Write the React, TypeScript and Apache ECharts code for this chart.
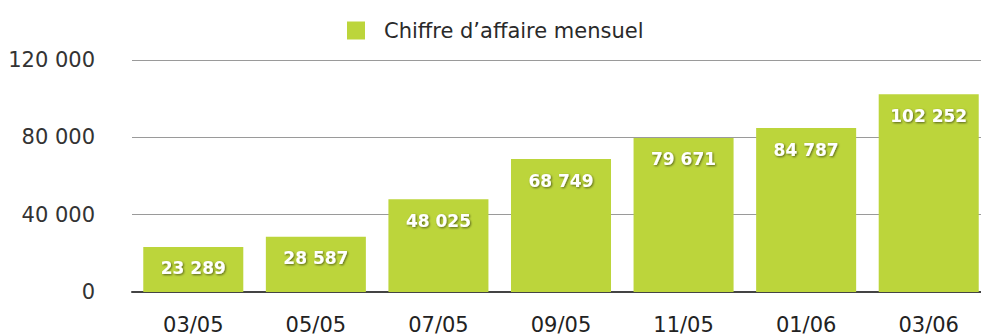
import React, { useEffect, useRef } from "react";
import * as echarts from "echarts";

const categories = ["03/05", "05/05", "07/05", "09/05", "11/05", "01/06", "03/06"];
const revenue = [23289, 28587, 48025, 68749, 79671, 84787, 102252];
const seriesName = "Chiffre d’affaire mensuel";
const yTicks = { min: 0, max: 120000, interval: 40000 };

const fmt = (v: number) => String(Math.round(v)).replace(/\B(?=(\d{3})+(?!\d))/g, " ");

export default function App() {
  const ref = useRef<HTMLDivElement>(null);
  useEffect(() => {
    if (!ref.current) return;
    const chart = echarts.init(ref.current, null, { renderer: "svg" });
    const font = "'DejaVu Sans', 'Liberation Sans', Arial, sans-serif";
    chart.setOption({
      animation: false,
      backgroundColor: "#ffffff",
      textStyle: { fontFamily: font },
      legend: {
        top: 20,
        left: 347,
        padding: 0,
        itemWidth: 18,
        itemHeight: 18,
        icon: "rect",
        textStyle: { fontSize: 21, color: "#2a2a2a", fontFamily: font, padding: [0, 0, 0, 14] },
        data: [seriesName],
      },
      // the plot runs slightly past the right edge of the visible frame
      grid: { left: 132, right: 0, top: 60, bottom: 43 },
      xAxis: {
        type: "category",
        data: categories,
        axisTick: { show: false },
        axisLine: { show: true, lineStyle: { color: "#444", width: 2 } },
        axisLabel: { fontSize: 21, color: "#222", margin: 22, fontFamily: font },
      },
      yAxis: {
        type: "value",
        min: yTicks.min,
        max: yTicks.max,
        interval: yTicks.interval,
        axisLine: { show: false },
        axisTick: { show: false },
        splitLine: { lineStyle: { color: "#9a9a9a", width: 1 } },
        axisLabel: {
          fontSize: 21,
          color: "#333",
          margin: 37,
          fontFamily: font,
          formatter: (v: number) => fmt(v),
        },
      },
      series: [
        {
          name: seriesName,
          type: "bar",
          data: revenue,
          barWidth: "81.6%",
          itemStyle: { color: "#bcd53b" },
          label: {
            show: true,
            position: "insideTop",
            distance: 13,
            color: "#ffffff",
            fontSize: 17,
            fontWeight: "bold",
            fontFamily: font,
            textShadowColor: "rgba(0,0,0,0.55)",
            textShadowBlur: 2,
            textShadowOffsetX: 1,
            textShadowOffsetY: 1,
            formatter: (p: any) => fmt(p.value),
          },
        },
      ],
    });
    return () => chart.dispose();
  }, []);
  return (
    <div
      style={{ position: "fixed", left: 0, top: 0, width: 981, height: 335, overflow: "hidden" }}
    >
      <div ref={ref} style={{ width: 990, height: 335 }} />
    </div>
  );
}
